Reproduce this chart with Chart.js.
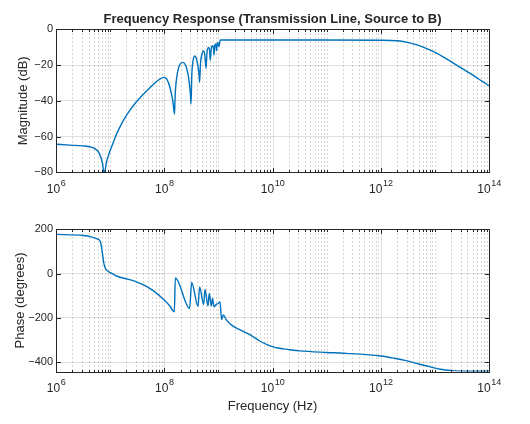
<!DOCTYPE html>
<html>
<head>
<meta charset="utf-8">
<script src="https://cdn.jsdelivr.net/npm/chart.js@4.4.1/dist/chart.umd.min.js"></script>
<style>
  html, body { margin: 0; padding: 0; background: #fff; }
  #wrap { position: relative; width: 530px; height: 424px; }
  canvas { position: absolute; left: 0; }
  #magChart { top: 0; }
  #phaseChart { top: 200px; }
</style>
</head>
<body>
<div id="wrap">
  <canvas id="magChart" width="530" height="200"></canvas>
  <canvas id="phaseChart" width="530" height="224"></canvas>
</div>
<script>
// --- Data ---
// frequencies are stored as log10(Hz)
const magExp = [
  6.00, 6.25, 6.50, 6.68, 6.75, 6.80, 6.86, 6.89, 6.935, 7.00, 7.05, 7.12, 7.18, 7.27, 7.37,
  7.46, 7.55, 7.64, 7.73, 7.82, 7.92, 7.99, 8.05, 8.11, 8.16, 8.19,
  8.20, 8.215, 8.24, 8.27, 8.30, 8.347, 8.39, 8.42, 8.45, 8.47, 8.485, 8.494,
  8.51, 8.53, 8.561, 8.59, 8.62, 8.64, 8.653,
  8.67, 8.70, 8.727, 8.75, 8.771,
  8.79, 8.819, 8.838, 8.85,
  8.87, 8.893, 8.91, 8.919,
  8.935, 8.948, 8.96, 8.967,
  8.98, 8.99, 9.01, 9.035,
  10.0, 11.0, 12.0, 12.3, 12.49, 12.67, 12.85, 13.03, 13.2, 13.4, 13.7, 14.0
];
const magDb = [
  -64.3, -64.8, -65.2, -66.2, -67.5, -69.4, -75.0, -81.0, -74.0, -68.0, -64.0, -58.5, -54.7, -49.7, -45.1,
  -41.5, -38.4, -35.5, -32.8, -30.2, -27.8, -26.9, -28.0, -33.0, -40.5, -47.4,
  -38.0, -31.0, -25.0, -21.0, -19.2, -18.5, -19.8, -22.5, -27.0, -32.0, -37.0, -41.8,
  -25.0, -18.0, -14.9, -16.0, -20.0, -24.5, -29.7,
  -19.0, -13.5, -12.1, -14.5, -21.8,
  -13.0, -10.1, -12.0, -17.2,
  -10.5, -9.2, -10.8, -14.4,
  -9.0, -8.2, -9.2, -12.0,
  -8.0, -7.5, -9.7, -6.0,
  -6.0, -6.0, -6.1, -6.4, -7.3, -8.7, -10.8, -13.3, -16.3, -20.0, -25.6, -31.6
];

const phaseExp = [
  6.00, 6.50, 6.65, 6.76, 6.82, 6.85, 6.88, 6.91, 6.956, 7.04, 7.13, 7.44, 7.74, 7.99, 8.10, 8.186,
  8.205, 8.469, 8.506, 8.624, 8.653, 8.727, 8.753, 8.808, 8.832, 8.869, 8.893, 8.919,
  8.96, 8.995, 9.03, 9.06, 9.09, 9.15, 9.27, 9.40, 9.59, 9.75, 9.89, 10.0, 10.1, 10.2, 10.35, 10.5,
  11.0, 11.36, 12.0, 12.25, 12.47, 12.7, 12.9, 13.1, 13.33, 13.6, 14.0
];
const phaseDeg = [
  177, 172, 166, 157, 145, 105, 52, 25, 12, 0, -12, -33, -68, -117, -145, -172,
  -20, -157, -40, -148, -60, -139, -71, -146, -90, -146, -112, -150,
  -139, -135, -128, -207, -187, -210, -237, -254, -277, -302, -320, -330, -336, -340, -345, -349,
  -356, -360, -372, -382, -393, -408, -420, -432, -438, -441, -441
];

const decadeLabels = [6, 8, 10, 12, 14];
const magTicks = [-80, -60, -40, -20, 0];
const phaseTicks = [-400, -200, 0, 200];

// --- Styling ---
const AXIS_COLOR = '#262626';
const LINE_COLOR = '#0072BD';
const FONT = '"Liberation Sans", Arial, Helvetica, sans-serif';

// grid / tick positions for the log axis: 1..9 x 10^n
const gridFreqs = [];
for (let e = 6; e < 14; e++) {
    for (let m = 1; m <= 9; m++) gridFreqs.push(m * Math.pow(10, e));
}
gridFreqs.push(1e14);

function isMajor(f) {
    const e = Math.log10(f);
    const r = Math.round(e);
    return Math.abs(e - r) < 1e-6 && r % 2 === 0;
}

function minusLabel(v) {
    return v < 0 ? '\u2212' + Math.abs(v) : String(v);
}

// MATLAB-like axes: dotted minor grid, box, inner ticks, 10^n labels
const matlabAxes = {
    id: 'matlabAxes',
    beforeDatasetsDraw(chart) {
        const {ctx, chartArea: a, scales: {x}} = chart;
        ctx.save();
        ctx.lineWidth = 1;
        gridFreqs.forEach(f => {
            const px = Math.round(x.getPixelForValue(f)) + 0.5;
            if (isMajor(f)) {
                ctx.strokeStyle = 'rgba(38,38,38,0.15)';
                ctx.setLineDash([]);
            } else {
                ctx.strokeStyle = 'rgba(38,38,38,0.25)';
                ctx.setLineDash([1.5, 2.5]);
            }
            ctx.beginPath();
            ctx.moveTo(px, a.top);
            ctx.lineTo(px, a.bottom);
            ctx.stroke();
        });
        ctx.restore();
    },
    afterDatasetsDraw(chart) {
        const {ctx, chartArea: a, scales: {x, y}} = chart;
        const L = Math.round(a.left) + 0.5, R = Math.round(a.right) + 0.5;
        const T = Math.round(a.top) + 0.5, B = Math.round(a.bottom) + 0.5;
        ctx.save();
        ctx.strokeStyle = AXIS_COLOR;
        ctx.lineWidth = 1;
        ctx.setLineDash([]);
        ctx.beginPath();
        gridFreqs.forEach(f => {
            const px = Math.round(x.getPixelForValue(f)) + 0.5;
            const len = isMajor(f) ? 4.5 : 2.5;
            ctx.moveTo(px, B); ctx.lineTo(px, B - len);
            ctx.moveTo(px, T); ctx.lineTo(px, T + len);
        });
        y.ticks.forEach(t => {
            const py = Math.round(y.getPixelForValue(t.value)) + 0.5;
            ctx.moveTo(L, py); ctx.lineTo(L + 4.5, py);
            ctx.moveTo(R, py); ctx.lineTo(R - 4.5, py);
        });
        ctx.stroke();
        ctx.strokeRect(L, T, R - L, B - T);

        // 10^n tick labels
        ctx.fillStyle = AXIS_COLOR;
        ctx.textBaseline = 'alphabetic';
        ctx.textAlign = 'left';
        decadeLabels.forEach(e => {
            const px = x.getPixelForValue(Math.pow(10, e));
            ctx.font = '12px ' + FONT;
            const wBase = ctx.measureText('10').width;
            ctx.font = '9px ' + FONT;
            const wExp = ctx.measureText(String(e)).width;
            const x0 = px - (wBase + wExp) / 2;
            ctx.font = '12px ' + FONT;
            ctx.fillText('10', x0, a.bottom + 20.5);
            ctx.font = '9px ' + FONT;
            ctx.fillText(String(e), x0 + wBase + 0.5, a.bottom + 13.5);
        });
        ctx.restore();
    }
};

function makeXScale(height, showTitle) {
    return {
        type: 'logarithmic',
        min: 1e6,
        max: 1e14,
        afterBuildTicks: s => { s.ticks = gridFreqs.map(v => ({value: v})); },
        afterFit: s => { s.height = height; },
        ticks: {display: false},
        grid: {display: false, drawTicks: false},
        border: {display: false},
        title: {
            display: showTitle,
            text: 'Frequency (Hz)',
            color: AXIS_COLOR,
            font: {family: FONT, size: 13},
            padding: {top: 0, bottom: 9.5}
        }
    };
}

function makeYScale(min, max, tickValues, label, titlePad) {
    return {
        type: 'linear',
        min: min,
        max: max,
        afterBuildTicks: s => { s.ticks = tickValues.map(v => ({value: v})); },
        afterFit: s => { s.width = 56; },
        ticks: {
            color: AXIS_COLOR,
            font: {family: FONT, size: 11},
            padding: 3,
            callback: v => minusLabel(v)
        },
        grid: {color: 'rgba(38,38,38,0.15)', drawTicks: false},
        border: {display: false},
        title: {
            display: true,
            text: label,
            color: AXIS_COLOR,
            font: {family: FONT, size: 13},
            padding: {top: titlePad, bottom: 0}
        }
    };
}

function lineDataset(exps, vals) {
    return {
        data: exps.map((e, i) => ({x: Math.pow(10, e), y: vals[i]})),
        showLine: true,
        borderColor: LINE_COLOR,
        borderWidth: 1.4,
        pointRadius: 0,
        cubicInterpolationMode: 'monotone'
    };
}

// --- Magnitude ---
new Chart(document.getElementById('magChart'), {
    type: 'scatter',
    data: {datasets: [lineDataset(magExp, magDb)]},
    options: {
        responsive: false,
        animation: false,
        devicePixelRatio: 1,
        layout: {padding: {left: 0, right: 41, top: 0, bottom: 0}},
        scales: {
            x: makeXScale(27.7, false),
            y: makeYScale(-80, 0, magTicks, 'Magnitude (dB)', 16)
        },
        plugins: {
            legend: {display: false},
            tooltip: {enabled: false},
            title: {
                display: true,
                fullSize: false,
                text: 'Frequency Response (Transmission Line, Source to B)',
                color: AXIS_COLOR,
                font: {family: FONT, size: 13, weight: 'bold'},
                padding: {top: 11.5, bottom: 2.2}
            }
        }
    },
    plugins: [matlabAxes]
});

// --- Phase ---
new Chart(document.getElementById('phaseChart'), {
    type: 'scatter',
    data: {datasets: [lineDataset(phaseExp, phaseDeg)]},
    options: {
        responsive: false,
        animation: false,
        devicePixelRatio: 1,
        layout: {padding: {left: 0, right: 41, top: 29.3, bottom: 0}},
        scales: {
            x: makeXScale(52.5, true),
            y: makeYScale(-442, 200, phaseTicks, 'Phase (degrees)', 12.5)
        },
        plugins: {
            legend: {display: false},
            tooltip: {enabled: false}
        }
    },
    plugins: [matlabAxes]
});
</script>
</body>
</html>
